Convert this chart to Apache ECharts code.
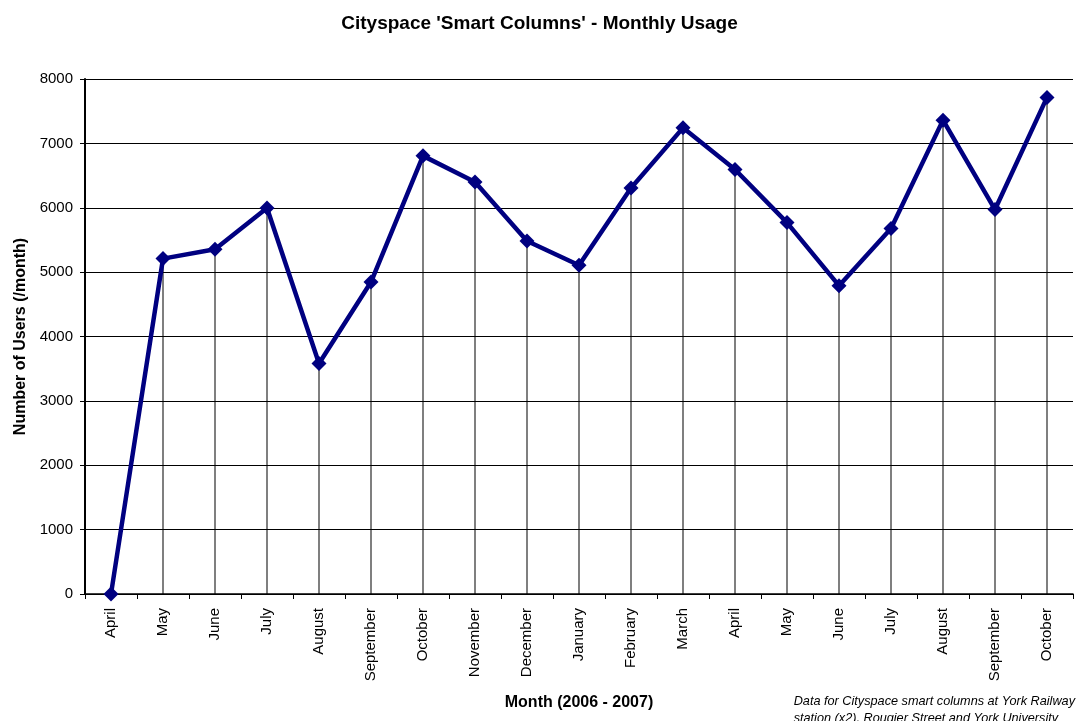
<!DOCTYPE html>
<html><head><meta charset="utf-8">
<script src="https://cdn.jsdelivr.net/npm/echarts@6/dist/echarts.min.js"></script>
<style>html,body{margin:0;padding:0;background:#fff}#c{width:1079px;height:721px}</style>
</head><body><div id="c"></div>
<script>
const months = ['April','May','June','July','August','September','October','November','December','January','February','March','April','May','June','July','August','September','October'];
const users = [0,5210,5355,5995,3580,4846,6806,6401,5484,5106,6308,7241,6594,5770,4790,5677,7361,5972,7714];
const yTicks = [0,1000,2000,3000,4000,5000,6000,7000,8000];
const FONT = '"Liberation Sans", Arial, sans-serif';
const chart = echarts.init(document.getElementById('c'), null, {renderer:'canvas'});
chart.setOption({
  animation:false,
  backgroundColor:'#fff',
  title:{text:"Cityspace 'Smart Columns' - Monthly Usage", left:'center', top:9,
    textStyle:{fontFamily:FONT,fontSize:19,fontWeight:'bold',color:'#000'}},
  graphic:[
    {type:'text', right:4, top:693, style:{text:'Data for Cityspace smart columns at York Railway\nstation (x2), Rougier Street and York University',
      align:'right', font:'italic 12.7px "Liberation Sans", Arial, sans-serif', fill:'#000', lineHeight:17}}
  ],
  grid:{left:85,right:6,top:79,bottom:127,containLabel:false},
  xAxis:{type:'category',data:months,boundaryGap:true,
    axisLine:{lineStyle:{color:'#000',width:1.5}},
    axisTick:{show:true,length:5,inside:false,alignWithLabel:false,lineStyle:{color:'#000'}},
    axisLabel:{rotate:90,fontFamily:FONT,fontSize:15,color:'#000',margin:14,interval:0},
    name:'Month (2006 - 2007)',nameLocation:'middle',nameGap:101,
    nameTextStyle:{fontFamily:FONT,fontSize:16,fontWeight:'bold',color:'#000'}},
  yAxis:{type:'value',min:0,max:8000,interval:1000,
    axisLine:{show:true,lineStyle:{color:'#000',width:2}},
    axisTick:{show:true,length:5,lineStyle:{color:'#000'}},
    axisLabel:{fontFamily:FONT,fontSize:15,color:'#000',margin:12,
      formatter:v=>yTicks.includes(v)?String(v):''},
    splitLine:{show:true,lineStyle:{color:'#000',width:1}},
    name:'Number of Users (/month)',nameLocation:'middle',nameGap:56,nameRotate:90,
    nameTextStyle:{fontFamily:FONT,fontSize:16,fontWeight:'bold',color:'#000'}},
  series:[
    {type:'bar',data:users,barWidth:1,itemStyle:{color:'#000'},z:1,silent:true},
    {type:'line',data:users,z:5,
      lineStyle:{color:'#000080',width:4.5},
      itemStyle:{color:'#000080'},
      symbol:'diamond',symbolSize:15,showSymbol:true}
  ]
});
</script></body></html>
